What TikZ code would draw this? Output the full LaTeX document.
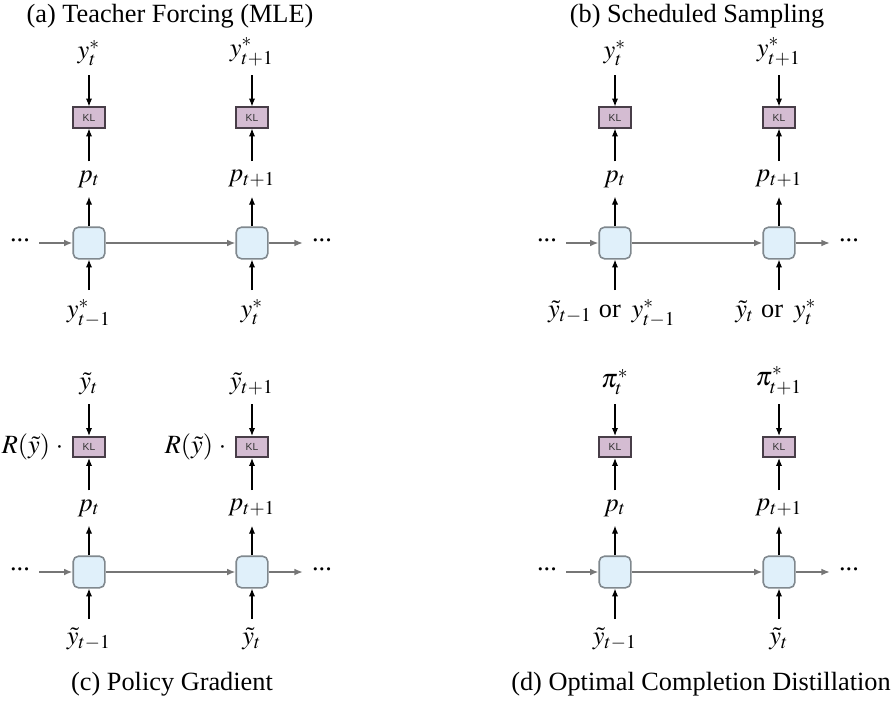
\documentclass[tikz,border=0pt]{standalone}
\usepackage{amsmath}
\usepackage{mathptmx}
\usepackage{fontspec}
\setmainfont{Liberation Serif}
\setsansfont{Liberation Sans}
\usepackage{tikz}
\usetikzlibrary{arrows.meta,positioning}
\definecolor{cellfill}{RGB}{224,240,250}
\definecolor{celldraw}{RGB}{128,136,142}
\definecolor{klfill}{RGB}{212,188,210}
\definecolor{kldraw}{RGB}{72,62,72}
\definecolor{recgray}{RGB}{118,118,118}

\begin{document}
\begin{tikzpicture}[x=0.38pt, y=-0.38pt,
  cell/.style={draw=celldraw, fill=cellfill, line width=0.6pt, rounded corners=2pt, minimum width=12pt, minimum height=12pt, inner sep=0pt},
  klbox/.style={draw=kldraw, fill=klfill, line width=0.6pt, minimum width=12pt, minimum height=7.8pt, inner sep=0pt, font=\sffamily\fontsize{3.9}{4}\selectfont, text=black!80},
  varr/.style={-{Latex[length=3pt,width=2.4pt]}, line width=0.45pt, black},
  harr/.style={-{Latex[length=3.2pt,width=2.6pt]}, line width=0.6pt, recgray}]

\useasboundingbox (0,0) rectangle (891,707);

% (a) teacher forcing
\node (atitle) at (170,16) {(a) Teacher Forcing (MLE)};
\node[cell] (ah1) at (89,243) {};
\node[cell] (ah2) at (252,243) {};
\node[klbox] (akl1) at (89,117.5) {KL};
\node[klbox] (akl2) at (252,117.5) {KL};
\node[anchor=south] (atgt1) at (89,75) {$y^*_t$};
\node[anchor=south] (atgt2) at (252,75) {$y^*_{t+1}$};
\node (ap1) at (89,179) {$p_t$};
\node (ap2) at (252,179) {$p_{t+1}$};
\node[anchor=north] (ain1) at (89,290) {$y^*_{t-1}$};
\node[anchor=north] (ain2) at (252,290) {$y^*_t$};
\node (adl) at (20,240) {...};
\node (adr) at (322,240) {...};

\draw[varr] (atgt1) to (akl1);
\draw[varr] (atgt2) to (akl2);
\draw[varr] (ap1) to (akl1);
\draw[varr] (ap2) to (akl2);
\draw[varr] (ah1) to (ap1);
\draw[varr] (ah2) to (ap2);
\draw[varr] (ain1) to (ah1);
\draw[varr] (ain2) to (ah2);
\draw[harr] (adl.east |- ah1) to (ah1);
\draw[harr] (ah1) to (ah2);
\draw[harr] (ah2) to (adr.west |- ah2);

% (b) scheduled sampling
\node (btitle) at (697,16) {(b) Scheduled Sampling};
\node[cell] (bh1) at (615,243) {};
\node[cell] (bh2) at (779,243) {};
\node[klbox] (bkl1) at (615,117.5) {KL};
\node[klbox] (bkl2) at (779,117.5) {KL};
\node[anchor=south] (btgt1) at (615,75) {$y^*_t$};
\node[anchor=south] (btgt2) at (779,75) {$y^*_{t+1}$};
\node (bp1) at (615,179) {$p_t$};
\node (bp2) at (779,179) {$p_{t+1}$};
\node[anchor=north] (bin1) at (612,290) {$\tilde{y}_{t-1}$ or\, $y^*_{t-1}$};
\node[anchor=north] (bin2) at (776,290) {$\tilde{y}_t$ or\, $y^*_t$};
\node (bdl) at (547,240) {...};
\node (bdr) at (849,240) {...};

\draw[varr] (btgt1) to (bkl1);
\draw[varr] (btgt2) to (bkl2);
\draw[varr] (bp1) to (bkl1);
\draw[varr] (bp2) to (bkl2);
\draw[varr] (bh1) to (bp1);
\draw[varr] (bh2) to (bp2);
\draw[varr] (bin1.north -| bh1) to (bh1);
\draw[varr] (bin2.north -| bh2) to (bh2);
\draw[harr] (bdl.east |- bh1) to (bh1);
\draw[harr] (bh1) to (bh2);
\draw[harr] (bh2) to (bdr.west |- bh2);

% (c) policy gradient
\node[cell] (ch1) at (89,572) {};
\node[cell] (ch2) at (252,572) {};
\node[klbox] (ckl1) at (89,447) {KL};
\node[klbox] (ckl2) at (252,447) {KL};
\node[left=0pt of ckl1] (cr1) {$R(\tilde{y})\;\cdot$};
\node[left=0pt of ckl2] (cr2) {$R(\tilde{y})\;\cdot$};
\node[anchor=south] (ctgt1) at (89,404) {$\tilde{y}_t$};
\node[anchor=south] (ctgt2) at (252,404) {$\tilde{y}_{t+1}$};
\node (cp1) at (89,508) {$p_t$};
\node (cp2) at (252,508) {$p_{t+1}$};
\node[anchor=north] (cin1) at (89,619) {$\tilde{y}_{t-1}$};
\node[anchor=north] (cin2) at (252,619) {$\tilde{y}_t$};
\node (cdl) at (20,569) {...};
\node (cdr) at (322,569) {...};
\node (ccap) at (172,684) {(c) Policy Gradient};

\draw[varr] (ctgt1) to (ckl1);
\draw[varr] (ctgt2) to (ckl2);
\draw[varr] (cp1) to (ckl1);
\draw[varr] (cp2) to (ckl2);
\draw[varr] (ch1) to (cp1);
\draw[varr] (ch2) to (cp2);
\draw[varr] (cin1) to (ch1);
\draw[varr] (cin2) to (ch2);
\draw[harr] (cdl.east |- ch1) to (ch1);
\draw[harr] (ch1) to (ch2);
\draw[harr] (ch2) to (cdr.west |- ch2);

% (d) optimal completion distillation
\node[cell] (dh1) at (615,572) {};
\node[cell] (dh2) at (779,572) {};
\node[klbox] (dkl1) at (615,447) {KL};
\node[klbox] (dkl2) at (779,447) {KL};
\node[anchor=south] (dtgt1) at (615,404) {$\pi^*_t$};
\node[anchor=south] (dtgt2) at (779,404) {$\pi^*_{t+1}$};
\node (dp1) at (615,508) {$p_t$};
\node (dp2) at (779,508) {$p_{t+1}$};
\node[anchor=north] (din1) at (615,619) {$\tilde{y}_{t-1}$};
\node[anchor=north] (din2) at (779,619) {$\tilde{y}_t$};
\node (ddl) at (547,569) {...};
\node (ddr) at (849,569) {...};
\node (dcap) at (701,684) {(d) Optimal Completion Distillation};

\draw[varr] (dtgt1) to (dkl1);
\draw[varr] (dtgt2) to (dkl2);
\draw[varr] (dp1) to (dkl1);
\draw[varr] (dp2) to (dkl2);
\draw[varr] (dh1) to (dp1);
\draw[varr] (dh2) to (dp2);
\draw[varr] (din1) to (dh1);
\draw[varr] (din2) to (dh2);
\draw[harr] (ddl.east |- dh1) to (dh1);
\draw[harr] (dh1) to (dh2);
\draw[harr] (dh2) to (ddr.west |- dh2);
\end{tikzpicture}
\end{document}
